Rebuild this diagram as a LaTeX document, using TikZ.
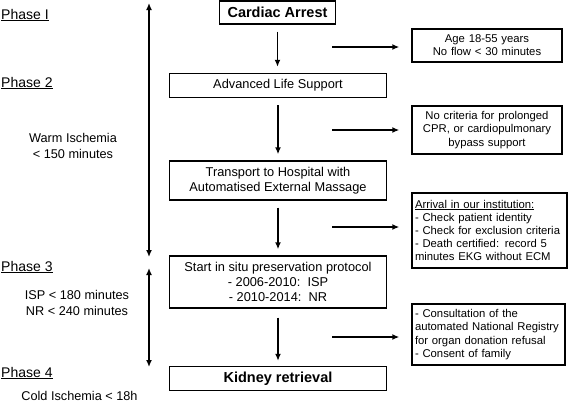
\documentclass[tikz,border=0pt]{standalone}
\usepackage{fontspec}
\setmainfont{Liberation Sans}
\usetikzlibrary{arrows.meta}

\def\LINEW{1.4pt}
\def\HEADFONT{\fontsize{14.5}{17}\selectfont\bfseries}
\def\MAINFONT{\fontsize{12.8}{15}\selectfont}
\def\SIDEFONT{\fontsize{11.3}{13.2}\selectfont}

\tikzset{
	mainbox/.style={draw,line width=\LINEW,minimum width=217pt,inner sep=0pt,align=center,font=\MAINFONT},
	sidebox/.style={draw,line width=\LINEW,inner sep=3pt,font=\SIDEFONT},
	phase/.style={anchor=west,inner sep=1pt,font=\fontsize{14}{16}\selectfont},
	note/.style={inner sep=0pt,align=center,font=\fontsize{12.7}{16}\selectfont},
	downarrow/.style={line width=1.5pt,-{Latex[length=7pt,width=6pt]},shorten <=7pt,shorten >=6pt},
	sidearrow/.style={line width=1.5pt,-{Latex[length=7pt,width=6pt]},shorten >=12pt},
	bothway/.style={line width=1.5pt,{Latex[length=7pt,width=6pt]}-{Latex[length=7pt,width=6pt]}}
}

\begin{document}
\begin{tikzpicture}[x=1pt,y=-1pt]

	\useasboundingbox (0,0) rectangle (568,402);

	\node[mainbox,font=\HEADFONT,minimum width=116pt,minimum height=23pt] (arrest) at (277.5,12.5) {Cardiac Arrest};
	\node[mainbox,minimum height=24pt] (als) at (278,85.5) {Advanced Life Support};
	\node[mainbox,minimum height=39pt] (transport) at (278,180.5) {Transport to Hospital with\\Automatised External Massage};
	\node[mainbox,minimum height=52pt] (insitu) at (278,282) {Start in situ preservation protocol\\- 2006-2010:\ \ ISP\\- 2010-2014:\ \ NR};
	\node[mainbox,font=\HEADFONT,minimum height=24pt] (kidney) at (278,378.5) {Kidney retrieval};

	\node[sidebox,text width=144pt,align=center,minimum height=33pt] (age) at (487,45.5) {Age 18-55 years\\No flow < 30 minutes};
	\node[sidebox,text width=144pt,align=center,minimum height=48pt] (criteria) at (487,130) {No criteria for prolonged\\CPR, or cardiopulmonary\\bypass support};
	\node[sidebox,text width=149pt,align=left,minimum height=75pt] (arrival) at (489.5,230.5) {\underline{Arrival in our institution:}\\- Check patient identity\\- Check for exclusion criteria\\- Death certified: record 5\\minutes EKG without ECM};
	\node[sidebox,text width=147pt,align=left,minimum height=61pt] (consult) at (488.5,334.5) {- Consultation of the\\automated National Registry\\for organ donation refusal\\- Consent of family};

	\draw[downarrow] (arrest.south) -- (arrest.south |- als.north);
	\draw[downarrow] (als.south) -- (als.north |- transport.north);
	\draw[downarrow] (transport.south) -- (transport.south |- insitu.north);
	\draw[downarrow,shorten <=9pt,shorten >=5pt] (insitu.south) -- (insitu.south |- kidney.north);

	\coordinate (r1) at (332,47);
	\coordinate (r2) at (332,130);
	\coordinate (r3) at (332,227);
	\coordinate (r4) at (332,337);
	\draw[sidearrow] (r1) -- (r1 -| age.west);
	\draw[sidearrow] (r2) -- (r2 -| criteria.west);
	\draw[sidearrow] (r3) -- (r3 -| arrival.west);
	\draw[sidearrow] (r4) -- (r4 -| consult.west);

	\coordinate (warmtop) at (149,3);
	\coordinate (warmbot) at (149,257);
	\coordinate (coldtop) at (149,268);
	\coordinate (coldbot) at (149,367);
	\draw[bothway] (warmtop) -- (warmbot);
	\draw[bothway] (coldtop) -- (coldbot);

	\node[phase] (phase1) at (0,15) {\underline{Phase I}};
	\node[phase] (phase2) at (0,83) {\underline{Phase 2}};
	\node[phase] (phase3) at (0,267) {\underline{Phase 3}};
	\node[phase] (phase4) at (0,373) {\underline{Phase 4}};

	\node[note] (warm) at (73,146) {Warm Ischemia\\< 150 minutes};
	\node[note] (ispnr) at (77,303) {ISP < 180 minutes\\NR < 240 minutes};
	\node[note] (cold) at (79.5,396) {Cold Ischemia < 18h};

\end{tikzpicture}
\end{document}
